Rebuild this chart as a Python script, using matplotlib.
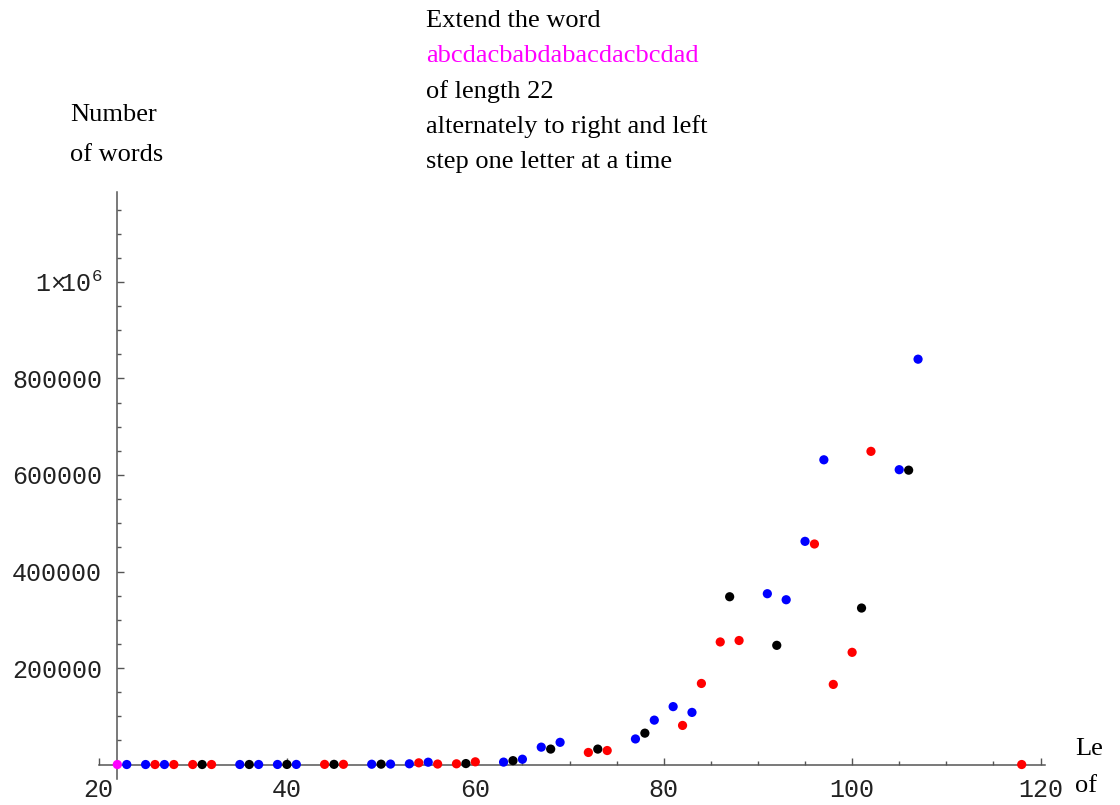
import numpy as np
import matplotlib
matplotlib.use('Agg')
import matplotlib.pyplot as plt
from matplotlib.ticker import FixedLocator

plt.rcParams['mathtext.fontset'] = 'custom'
plt.rcParams['mathtext.rm'] = 'Liberation Mono'

# word length -> number of words, grouped by the colour of the step
start_len = [22]
start_cnt = [1]

blue_len = [23, 25, 27, 35, 37, 39, 41, 49, 51, 53, 55, 63, 65, 67, 69,
            77, 79, 81, 83, 91, 93, 95, 97, 105, 107]
blue_cnt = [2, 4, 8, 40, 70, 120, 200, 600, 900, 1500, 4800, 5000, 11000,
            36000, 46000, 53000, 92000, 120000, 108000, 354000, 341500,
            462500, 631500, 611000, 840000]

red_len = [26, 28, 30, 32, 44, 46, 54, 56, 58, 60, 72, 74, 82, 84, 86, 88,
           96, 98, 100, 102, 118]
red_cnt = [6, 10, 15, 25, 300, 400, 3500, 1000, 1500, 5600, 25000, 29000,
           81000, 168000, 254000, 257000, 457000, 166000, 232500, 649000, 0]

black_len = [31, 36, 40, 45, 50, 59, 64, 68, 73, 78, 87, 92, 101, 106]
black_cnt = [20, 50, 150, 350, 700, 2000, 8000, 32000, 32000, 65000,
             347700, 247000, 324300, 610000]

x_major = [20, 40, 60, 80, 100, 120]
y_major = [200000, 400000, 600000, 800000, 1000000]
y_labels = ['200000', '400000', '600000', '800000', r'$1{\times}\!10^{6}$']

title_lines = ['Extend the word', 'abcdacbabdabacdacbcdad', 'of length 22',
               'alternately to right and left', 'step one letter at a time']
title_colors = ['black', '#ff00ff', 'black', 'black', 'black']

W, H = 1120, 805
fig = plt.figure(figsize=(W / 100, H / 100), dpi=100)
ax = fig.add_axes([0.08795, 0.0323, 0.8495, 0.7313])
ax.set_xlim(20, 121)
ax.set_ylim(-30000, 1190000)

ax.spines['top'].set_visible(False)
ax.spines['right'].set_visible(False)
ax.spines['left'].set_position(('data', 22))
ax.spines['bottom'].set_position(('data', 0))
ax.spines['left'].set_bounds(-30000, 1186000)
ax.spines['bottom'].set_bounds(20, 120.5)
for s in ['left', 'bottom']:
    ax.spines[s].set_color('#555555')
    ax.spines[s].set_linewidth(1.1)

ax.set_xticks(x_major)
ax.set_xticklabels([str(v) for v in x_major])
ax.xaxis.set_minor_locator(FixedLocator([v for v in range(25, 121, 5) if v % 20]))
ax.set_yticks(y_major)
ax.set_yticklabels(y_labels)
ax.yaxis.set_minor_locator(FixedLocator([v for v in range(50000, 1190000, 50000) if v % 200000]))

ax.tick_params(which='both', direction='in', color='#555555', width=1.0,
               labelsize=18, labelcolor='#222222')
ax.tick_params(which='major', length=5)
ax.tick_params(which='minor', length=3)
ax.tick_params(axis='y', pad=11)
ax.tick_params(axis='x', pad=10)
for lab in ax.get_xticklabels() + ax.get_yticklabels():
    lab.set_family('Liberation Mono')

# the dots
for xs, ys, c in [(start_len, start_cnt, '#ff00ff'), (blue_len, blue_cnt, '#0000ff'),
                  (red_len, red_cnt, '#ff0000'), (black_len, black_cnt, 'black')]:
    ax.scatter(xs, ys, s=44, color=c, edgecolors='none', zorder=5, clip_on=False)

def px_text(x, y, s, **kw):
    fig.text(x / W, 1 - y / H, s, fontsize=19, family='Liberation Serif',
             va='baseline', ha='left', **kw)

for i, (line, col) in enumerate(zip(title_lines, title_colors)):
    px_text(426, 26.7 + 35.4 * i, line, color=col)

px_text(70, 121, 'Number')
px_text(70, 161, 'of words')
px_text(1075, 755, 'Le')
px_text(1075, 792, 'of')

fig.savefig('out.png', dpi=100)
